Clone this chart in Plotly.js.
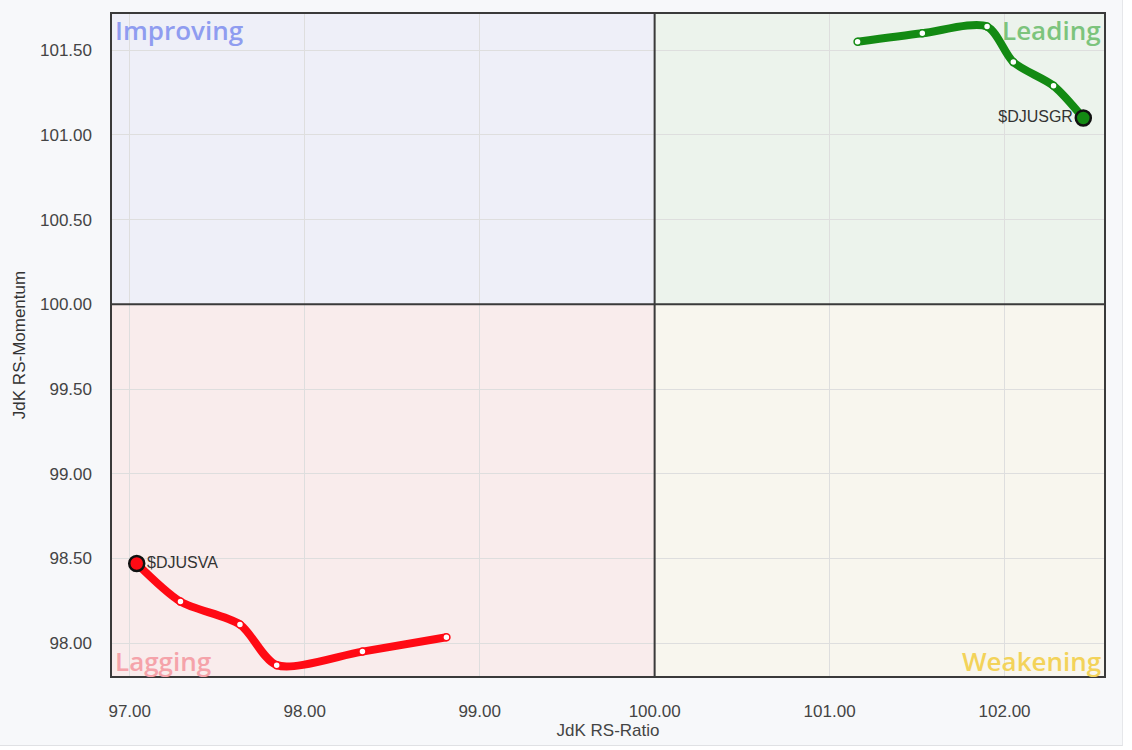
<!DOCTYPE html>
<html>
<head>
<meta charset="utf-8">
<script src="https://cdn.plot.ly/plotly-3.0.1.min.js"></script>
<style>
html,body{margin:0;padding:0;background:#ffffff;}
#wrap{position:absolute;left:0;top:0;width:1122px;height:745px;background:#f7f8fa;border-right:1px solid #e6e7ea;border-bottom:1px solid #e0e1e4;}
#chart{width:1132px;height:750px;}
</style>
</head>
<body>
<div id="wrap"></div>
<div id="chart" style="position:absolute;left:0;top:0;"></div>
<script>
// Data
const symbols = ["$DJUSGR", "$DJUSVA"];
const grRatio = [101.16, 101.53, 101.90, 102.05, 102.28, 102.45];
const grMomentum = [101.55, 101.60, 101.64, 101.43, 101.29, 101.10];
const vaRatio = [98.81, 98.33, 97.84, 97.63, 97.29, 97.04];
const vaMomentum = [98.035, 97.95, 97.87, 98.11, 98.245, 98.47];
const xTicks = [97, 98, 99, 100, 101, 102];
const yTicks = [98, 98.5, 99, 99.5, 100, 100.5, 101, 101.5];
const quadrantNames = ["Improving", "Leading", "Lagging", "Weakening"];

const xRange = [96.893, 102.574];
const yRange = [97.80, 101.72];
const center = 100;

function tailTraces(xs, ys, color, name, labelPos) {
  const n = xs.length;
  return [
    {x: xs, y: ys, type: 'scatter', mode: 'lines',
     line: {color: color, width: 8, shape: 'spline', smoothing: 0.8},
     hoverinfo: 'skip', showlegend: false},
    {x: xs.slice(0, n - 1), y: ys.slice(0, n - 1), type: 'scatter', mode: 'markers',
     marker: {size: 7, color: '#ffffff', line: {color: color, width: 1.5}},
     showlegend: false, hoverinfo: 'x+y'},
    {x: [xs[n - 1]], y: [ys[n - 1]], type: 'scatter', mode: 'markers+text',
     text: [name], textposition: labelPos,
     textfont: {family: 'Liberation Sans, Arial, sans-serif', size: 16, color: '#333333'},
     marker: {size: 15, color: color, line: {color: '#111111', width: 2.5}},
     showlegend: false, hoverinfo: 'x+y'}
  ];
}

const data = [
  ...tailTraces(grRatio, grMomentum, '#138a13', symbols[0], 'middle left'),
  ...tailTraces(vaRatio, vaMomentum, '#ff0a14', symbols[1], 'middle right')
];

const shapes = [
  {type: 'rect', xref: 'x', yref: 'y', x0: xRange[0], x1: center, y0: center, y1: yRange[1], fillcolor: '#eeeff8', line: {width: 0}, layer: 'below'},
  {type: 'rect', xref: 'x', yref: 'y', x0: center, x1: xRange[1], y0: center, y1: yRange[1], fillcolor: '#ecf3ec', line: {width: 0}, layer: 'below'},
  {type: 'rect', xref: 'x', yref: 'y', x0: xRange[0], x1: center, y0: yRange[0], y1: center, fillcolor: '#f9ecec', line: {width: 0}, layer: 'below'},
  {type: 'rect', xref: 'x', yref: 'y', x0: center, x1: xRange[1], y0: yRange[0], y1: center, fillcolor: '#f8f6ee', line: {width: 0}, layer: 'below'},
  {type: 'line', xref: 'x', yref: 'paper', x0: center, x1: center, y0: 0, y1: 1, line: {color: '#3a3a3a', width: 2}},
  {type: 'line', xref: 'paper', yref: 'y', x0: 0, x1: 1, y0: center, y1: center, line: {color: '#3a3a3a', width: 2}},
  {type: 'rect', xref: 'paper', yref: 'paper', x0: 0, x1: 1, y0: 0, y1: 1, line: {color: '#3a3a3a', width: 2}, fillcolor: 'rgba(0,0,0,0)'}
];

const qFont = {family: 'Open Sans, Liberation Sans, sans-serif', size: 26, weight: 600};
const annotations = [
  {xref: 'paper', yref: 'paper', x: 0.002, y: 1.004, xanchor: 'left', yanchor: 'top', text: quadrantNames[0], showarrow: false, font: {...qFont, color: '#8f9cf0'}},
  {xref: 'paper', yref: 'paper', x: 0.998, y: 1.004, xanchor: 'right', yanchor: 'top', text: quadrantNames[1], showarrow: false, font: {...qFont, color: '#7cc47c'}},
  {xref: 'paper', yref: 'paper', x: 0.002, y: -0.006, xanchor: 'left', yanchor: 'bottom', text: quadrantNames[2], showarrow: false, font: {...qFont, color: '#f5a3aa'}},
  {xref: 'paper', yref: 'paper', x: 0.998, y: -0.006, xanchor: 'right', yanchor: 'bottom', text: quadrantNames[3], showarrow: false, font: {...qFont, color: '#f3d35a'}}
];

const layout = {
  width: 1132, height: 750,
  paper_bgcolor: 'rgba(0,0,0,0)',
  plot_bgcolor: '#ffffff',
  margin: {l: 111, r: 27, t: 13, b: 73},
  showlegend: false,
  font: {family: 'Liberation Sans, Arial, sans-serif', size: 17, color: '#444444'},
  xaxis: {
    range: xRange, tickvals: xTicks, tickformat: '.2f', showgrid: true, gridcolor: '#dedede', gridwidth: 1,
    zeroline: false, showline: false, ticks: '', ticklen: 0, ticklabelstandoff: 22,
    tickfont: {size: 17, color: '#444444'},
    title: {text: 'JdK RS-Ratio', font: {size: 17, color: '#444444'}, standoff: 3}
  },
  yaxis: {
    range: yRange, tickvals: yTicks, tickformat: '.2f', showgrid: true, gridcolor: '#dedede', gridwidth: 1,
    zeroline: false, showline: false, ticks: '', ticklen: 0, ticklabelstandoff: 18,
    tickfont: {size: 17, color: '#444444'},
    title: {text: 'JdK RS-Momentum', font: {size: 17, color: '#333333'}, standoff: 10}
  },
  shapes: shapes,
  annotations: annotations
};

Plotly.newPlot('chart', data, layout, {displayModeBar: false});
</script>
</body>
</html>
